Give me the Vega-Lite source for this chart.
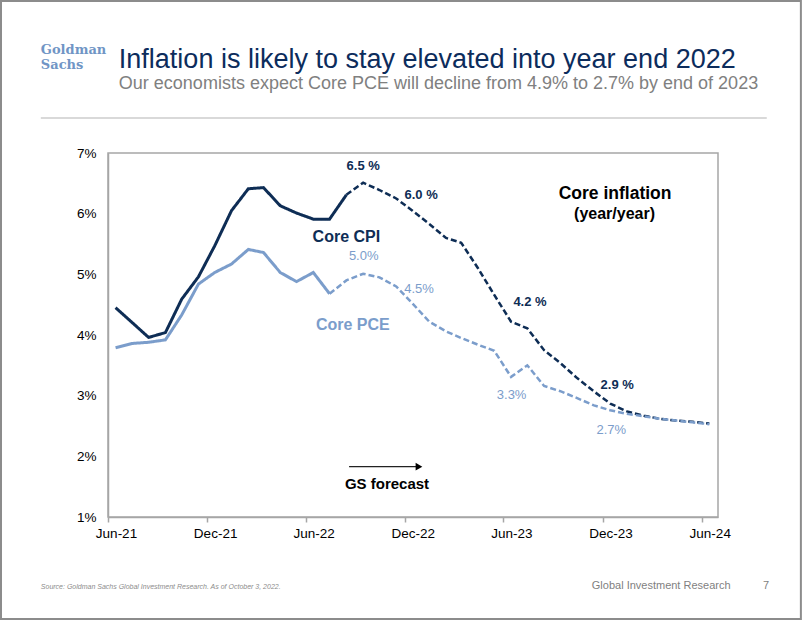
{
  "$schema": "https://vega.github.io/schema/vega-lite/v6.json",
  "width": 610,
  "height": 364,
  "autosize": {"type": "none"},
  "padding": {"left": 108, "top": 153, "right": 84, "bottom": 103},
  "background": "white",
  "config": {
    "font": "Liberation Sans",
    "view": {"stroke": "#A6A6A6", "strokeWidth": 1.5},
    "axis": {"grid": false, "labelFont": "Liberation Sans", "labelColor": "#000000", "labelFontSize": 13.5, "domainColor": "#A6A6A6", "domainWidth": 1.5, "tickColor": "#A6A6A6", "tickWidth": 1.5, "title": null}
  },
  "datasets": {
    "series": [
      {"series": "Core CPI", "phase": "Actual", "date": "2021-06-15", "value": 4.45},
      {"series": "Core CPI", "phase": "Actual", "date": "2021-07-15", "value": 4.21},
      {"series": "Core CPI", "phase": "Actual", "date": "2021-08-15", "value": 3.96},
      {"series": "Core CPI", "phase": "Actual", "date": "2021-09-15", "value": 4.04},
      {"series": "Core CPI", "phase": "Actual", "date": "2021-10-15", "value": 4.59},
      {"series": "Core CPI", "phase": "Actual", "date": "2021-11-15", "value": 4.96},
      {"series": "Core CPI", "phase": "Actual", "date": "2021-12-15", "value": 5.47},
      {"series": "Core CPI", "phase": "Actual", "date": "2022-01-15", "value": 6.05},
      {"series": "Core CPI", "phase": "Actual", "date": "2022-02-15", "value": 6.41},
      {"series": "Core CPI", "phase": "Actual", "date": "2022-03-15", "value": 6.43},
      {"series": "Core CPI", "phase": "Actual", "date": "2022-04-15", "value": 6.13},
      {"series": "Core CPI", "phase": "Actual", "date": "2022-05-15", "value": 6.01},
      {"series": "Core CPI", "phase": "Actual", "date": "2022-06-15", "value": 5.91},
      {"series": "Core CPI", "phase": "Actual", "date": "2022-07-15", "value": 5.91},
      {"series": "Core CPI", "phase": "Actual", "date": "2022-08-15", "value": 6.31},
      {"series": "Core CPI", "phase": "Forecast", "date": "2022-08-15", "value": 6.31},
      {"series": "Core CPI", "phase": "Forecast", "date": "2022-09-15", "value": 6.51},
      {"series": "Core CPI", "phase": "Forecast", "date": "2022-10-15", "value": 6.39},
      {"series": "Core CPI", "phase": "Forecast", "date": "2022-11-15", "value": 6.25},
      {"series": "Core CPI", "phase": "Forecast", "date": "2022-12-15", "value": 6.05},
      {"series": "Core CPI", "phase": "Forecast", "date": "2023-01-15", "value": 5.83},
      {"series": "Core CPI", "phase": "Forecast", "date": "2023-02-15", "value": 5.6},
      {"series": "Core CPI", "phase": "Forecast", "date": "2023-03-15", "value": 5.52},
      {"series": "Core CPI", "phase": "Forecast", "date": "2023-04-15", "value": 5.1},
      {"series": "Core CPI", "phase": "Forecast", "date": "2023-05-15", "value": 4.66},
      {"series": "Core CPI", "phase": "Forecast", "date": "2023-06-15", "value": 4.22},
      {"series": "Core CPI", "phase": "Forecast", "date": "2023-07-15", "value": 4.11},
      {"series": "Core CPI", "phase": "Forecast", "date": "2023-08-15", "value": 3.75},
      {"series": "Core CPI", "phase": "Forecast", "date": "2023-09-15", "value": 3.53},
      {"series": "Core CPI", "phase": "Forecast", "date": "2023-10-15", "value": 3.29},
      {"series": "Core CPI", "phase": "Forecast", "date": "2023-11-15", "value": 3.07},
      {"series": "Core CPI", "phase": "Forecast", "date": "2023-12-15", "value": 2.87},
      {"series": "Core CPI", "phase": "Forecast", "date": "2024-01-15", "value": 2.74},
      {"series": "Core CPI", "phase": "Forecast", "date": "2024-02-15", "value": 2.67},
      {"series": "Core CPI", "phase": "Forecast", "date": "2024-03-15", "value": 2.62},
      {"series": "Core CPI", "phase": "Forecast", "date": "2024-04-15", "value": 2.59},
      {"series": "Core CPI", "phase": "Forecast", "date": "2024-05-15", "value": 2.57},
      {"series": "Core CPI", "phase": "Forecast", "date": "2024-06-15", "value": 2.54},
      {"series": "Core PCE", "phase": "Actual", "date": "2021-06-15", "value": 3.79},
      {"series": "Core PCE", "phase": "Actual", "date": "2021-07-15", "value": 3.86},
      {"series": "Core PCE", "phase": "Actual", "date": "2021-08-15", "value": 3.88},
      {"series": "Core PCE", "phase": "Actual", "date": "2021-09-15", "value": 3.92},
      {"series": "Core PCE", "phase": "Actual", "date": "2021-10-15", "value": 4.33},
      {"series": "Core PCE", "phase": "Actual", "date": "2021-11-15", "value": 4.84},
      {"series": "Core PCE", "phase": "Actual", "date": "2021-12-15", "value": 5.03},
      {"series": "Core PCE", "phase": "Actual", "date": "2022-01-15", "value": 5.17},
      {"series": "Core PCE", "phase": "Actual", "date": "2022-02-15", "value": 5.41},
      {"series": "Core PCE", "phase": "Actual", "date": "2022-03-15", "value": 5.36},
      {"series": "Core PCE", "phase": "Actual", "date": "2022-04-15", "value": 5.03},
      {"series": "Core PCE", "phase": "Actual", "date": "2022-05-15", "value": 4.88},
      {"series": "Core PCE", "phase": "Actual", "date": "2022-06-15", "value": 5.03},
      {"series": "Core PCE", "phase": "Actual", "date": "2022-07-15", "value": 4.68},
      {"series": "Core PCE", "phase": "Forecast", "date": "2022-07-15", "value": 4.68},
      {"series": "Core PCE", "phase": "Forecast", "date": "2022-08-15", "value": 4.9},
      {"series": "Core PCE", "phase": "Forecast", "date": "2022-09-15", "value": 5.01},
      {"series": "Core PCE", "phase": "Forecast", "date": "2022-10-15", "value": 4.95},
      {"series": "Core PCE", "phase": "Forecast", "date": "2022-11-15", "value": 4.8},
      {"series": "Core PCE", "phase": "Forecast", "date": "2022-12-15", "value": 4.52},
      {"series": "Core PCE", "phase": "Forecast", "date": "2023-01-15", "value": 4.22},
      {"series": "Core PCE", "phase": "Forecast", "date": "2023-02-15", "value": 4.06},
      {"series": "Core PCE", "phase": "Forecast", "date": "2023-03-15", "value": 3.95},
      {"series": "Core PCE", "phase": "Forecast", "date": "2023-04-15", "value": 3.84},
      {"series": "Core PCE", "phase": "Forecast", "date": "2023-05-15", "value": 3.74},
      {"series": "Core PCE", "phase": "Forecast", "date": "2023-06-15", "value": 3.31},
      {"series": "Core PCE", "phase": "Forecast", "date": "2023-07-15", "value": 3.5},
      {"series": "Core PCE", "phase": "Forecast", "date": "2023-08-15", "value": 3.16},
      {"series": "Core PCE", "phase": "Forecast", "date": "2023-09-15", "value": 3.07},
      {"series": "Core PCE", "phase": "Forecast", "date": "2023-10-15", "value": 2.96},
      {"series": "Core PCE", "phase": "Forecast", "date": "2023-11-15", "value": 2.84},
      {"series": "Core PCE", "phase": "Forecast", "date": "2023-12-15", "value": 2.76},
      {"series": "Core PCE", "phase": "Forecast", "date": "2024-01-15", "value": 2.7},
      {"series": "Core PCE", "phase": "Forecast", "date": "2024-02-15", "value": 2.66},
      {"series": "Core PCE", "phase": "Forecast", "date": "2024-03-15", "value": 2.62},
      {"series": "Core PCE", "phase": "Forecast", "date": "2024-04-15", "value": 2.59},
      {"series": "Core PCE", "phase": "Forecast", "date": "2024-05-15", "value": 2.56},
      {"series": "Core PCE", "phase": "Forecast", "date": "2024-06-15", "value": 2.53}
    ],
    "cpiLabels": [
      {"date": "2022-09-15", "value": 6.79, "label": "6.5 %"},
      {"date": "2022-12-31", "value": 6.31, "label": "6.0 %"},
      {"date": "2023-07-20", "value": 4.54, "label": "4.2 %"},
      {"date": "2023-12-28", "value": 3.17, "label": "2.9 %"}
    ],
    "pceLabels": [
      {"date": "2022-09-16", "value": 5.3, "label": "5.0%"},
      {"date": "2022-12-27", "value": 4.76, "label": "4.5%"},
      {"date": "2023-06-16", "value": 3.01, "label": "3.3%"},
      {"date": "2023-12-17", "value": 2.44, "label": "2.7%"}
    ],
    "seriesNames": [
      {"date": "2022-08-15", "value": 5.61, "label": "Core CPI", "series": "Core CPI"},
      {"date": "2022-08-27", "value": 4.17, "label": "Core PCE", "series": "Core PCE"}
    ]
  },
  "encoding": {
    "x": {
      "field": "date", "type": "temporal",
      "scale": {"type": "utc", "domain": [{"year": 2021, "month": 6, "date": 1, "utc": true}, {"year": 2024, "month": 7, "date": 1, "utc": true}]},
      "axis": {
        "values": [
          {"year": 2021, "month": 6, "date": 1, "utc": true},
          {"year": 2021, "month": 12, "date": 1, "utc": true},
          {"year": 2022, "month": 6, "date": 1, "utc": true},
          {"year": 2022, "month": 12, "date": 1, "utc": true},
          {"year": 2023, "month": 6, "date": 1, "utc": true},
          {"year": 2023, "month": 12, "date": 1, "utc": true},
          {"year": 2024, "month": 6, "date": 1, "utc": true}
        ],
        "format": "%b-%y", "tickSize": 5, "labelPadding": 4, "labelOffset": 8, "labelFlush": false, "labelOverlap": false
      }
    },
    "y": {
      "field": "value", "type": "quantitative",
      "scale": {"domain": [1, 7], "nice": false, "zero": false},
      "axis": {"values": [1, 2, 3, 4, 5, 6, 7], "labelExpr": "datum.value + '%'", "ticks": false, "labelPadding": 12, "labelFlush": false}
    }
  },
  "layer": [
    {
      "data": {"values": [{"date": "2020-11-15T12:00:00Z", "date2": "2024-12-01T00:00:00Z", "value": 9.505, "value2": -0.681}]},
      "mark": {"type": "rect", "fill": null, "stroke": "#8C8C8C", "strokeWidth": 2, "clip": false},
      "encoding": {"x2": {"field": "date2"}, "y2": {"field": "value2"}}
    },
    {
      "data": {"values": [{"date": "2021-01-28", "date2": "2024-09-29", "value": 7.577}]},
      "mark": {"type": "rule", "color": "#D9D9D9", "strokeWidth": 2, "clip": false},
      "encoding": {"x2": {"field": "date2"}}
    },
    {
      "data": {"values": [{"date": "2021-01-28", "value": 8.635, "label": "Goldman"}, {"date": "2021-01-28", "value": 8.385, "label": "Sachs"}]},
      "mark": {"type": "text", "font": "DejaVu Serif", "fontWeight": "bold", "fontSize": 13, "color": "#7095C5", "align": "left", "baseline": "alphabetic", "clip": false},
      "encoding": {"text": {"field": "label"}}
    },
    {
      "data": {"values": [{"date": "2021-06-21", "value": 8.4, "label": "Inflation is likely to stay elevated into year end 2022"}]},
      "mark": {"type": "text", "fontSize": 27, "color": "#0C2C5C", "align": "left", "baseline": "alphabetic", "clip": false},
      "encoding": {"text": {"field": "label"}}
    },
    {
      "data": {"values": [{"date": "2021-06-21", "value": 8.05, "label": "Our economists expect Core PCE will decline from 4.9% to 2.7% by end of 2023"}]},
      "mark": {"type": "text", "fontSize": 18, "color": "#808080", "align": "left", "baseline": "alphabetic", "clip": false},
      "encoding": {"text": {"field": "label"}}
    },
    {
      "data": {"values": [{"date": "2021-01-28", "value": -0.187, "label": "Source: Goldman Sachs Global Investment Research. As of October 3, 2022."}]},
      "mark": {"type": "text", "fontSize": 7, "fontStyle": "italic", "color": "#8C8C8C", "align": "left", "baseline": "alphabetic", "clip": false},
      "encoding": {"text": {"field": "label"}}
    },
    {
      "data": {"values": [{"date": "2023-11-11", "value": -0.187, "label": "Global Investment Research"}, {"date": "2024-09-22", "value": -0.187, "label": "7"}]},
      "mark": {"type": "text", "fontSize": 11, "color": "#7F7F7F", "align": "left", "baseline": "alphabetic", "clip": false},
      "encoding": {"text": {"field": "label"}}
    },
    {
      "data": {"name": "series"},
      "mark": {"type": "line", "clip": false},
      "encoding": {
        "color": {"field": "series", "type": "nominal", "scale": {"domain": ["Core CPI", "Core PCE"], "range": ["#0E2D55", "#7B9DCB"]}, "legend": null},
        "strokeDash": {"field": "phase", "type": "nominal", "scale": {"domain": ["Actual", "Forecast"], "range": [[1, 0], [6, 3]]}, "legend": null},
        "strokeWidth": {"field": "phase", "type": "ordinal", "scale": {"domain": ["Actual", "Forecast"], "range": [3, 2.5]}, "legend": null}
      }
    },
    {
      "data": {"name": "cpiLabels"},
      "mark": {"type": "text", "fontSize": 13, "fontWeight": "bold", "color": "#0E2D55"},
      "encoding": {"text": {"field": "label"}}
    },
    {
      "data": {"name": "pceLabels"},
      "mark": {"type": "text", "fontSize": 13, "color": "#7B9DCB"},
      "encoding": {"text": {"field": "label"}}
    },
    {
      "data": {"name": "seriesNames"},
      "mark": {"type": "text", "fontSize": 16, "fontWeight": "bold"},
      "encoding": {"text": {"field": "label"}, "color": {"field": "series", "type": "nominal", "legend": null}}
    },
    {
      "data": {"values": [{"date": "2023-12-24", "value": 6.324, "label": "Core inflation"}]},
      "mark": {"type": "text", "fontSize": 17.5, "fontWeight": "bold", "color": "#000000"},
      "encoding": {"text": {"field": "label"}}
    },
    {
      "data": {"values": [{"date": "2023-12-23", "value": 5.995, "label": "(year/year)"}]},
      "mark": {"type": "text", "fontSize": 16, "fontWeight": "bold", "color": "#000000"},
      "encoding": {"text": {"field": "label"}}
    },
    {
      "data": {"values": [{"date": "2022-10-29", "value": 1.552, "label": "GS forecast"}]},
      "mark": {"type": "text", "fontSize": 15, "fontWeight": "bold", "color": "#000000"},
      "encoding": {"text": {"field": "label"}}
    },
    {
      "data": {"values": [{"date": "2022-08-20", "date2": "2022-12-26", "value": 1.83}]},
      "mark": {"type": "rule", "color": "#222222", "strokeWidth": 1.3},
      "encoding": {"x2": {"field": "date2"}}
    },
    {
      "data": {"values": [{"date": "2022-12-27", "value": 1.83}]},
      "mark": {"type": "point", "shape": "triangle-right", "filled": true, "color": "#000000", "size": 60, "opacity": 1},
      "encoding": {}
    }
  ]
}
